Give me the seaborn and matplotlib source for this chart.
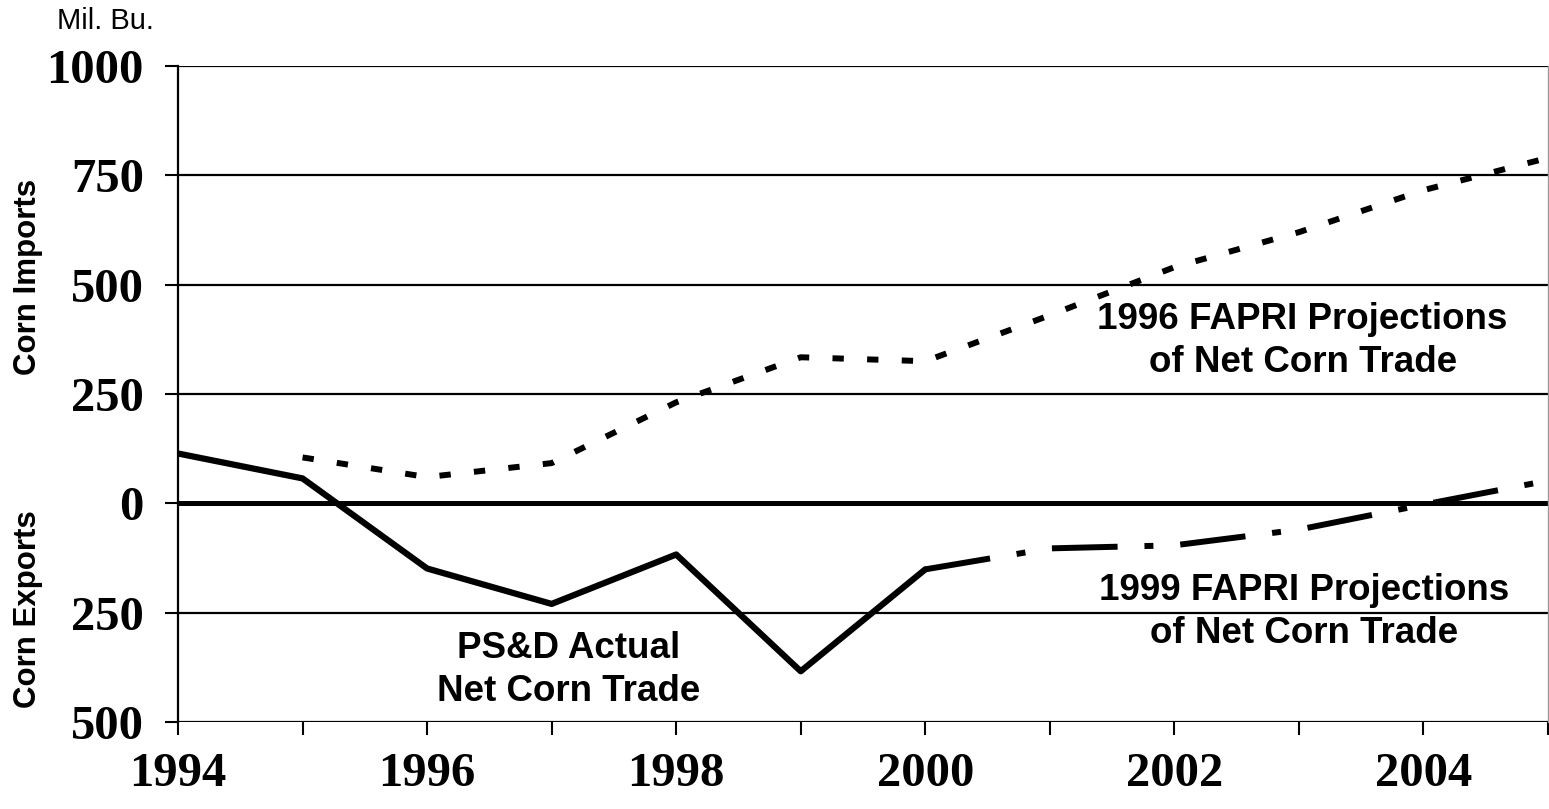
import matplotlib
matplotlib.use("Agg")
import matplotlib.pyplot as plt
import seaborn as sns
import pandas as pd

# Net corn trade, million bushels (positive = imports, negative = exports)
years_actual = [1994, 1995, 1996, 1997, 1998, 1999, 2000]
actual_trade = [114, 57, -149, -230, -117, -384, -151]

years_proj_1996 = [1995, 1996, 1997, 1998, 1999, 2000, 2001, 2002, 2003, 2004, 2005]
proj_1996 = [105, 60, 92, 231, 334, 325, 430, 540, 620, 716, 790]

years_proj_1999 = [2000, 2001, 2002, 2003, 2004, 2005]
proj_1999 = [-151, -103, -96, -60, -3, 52]

y_ticks = [-500, -250, 0, 250, 500, 750, 1000]
y_tick_labels = ["500", "250", "0", "250", "500", "750", "1000"]
x_ticks = list(range(1994, 2006))
x_tick_labels = [str(y) if y % 2 == 0 else "" for y in x_ticks]

df_actual = pd.DataFrame({"year": years_actual, "trade": actual_trade})
df_1996 = pd.DataFrame({"year": years_proj_1996, "trade": proj_1996})
df_1999 = pd.DataFrame({"year": years_proj_1999, "trade": proj_1999})

sns.set_style("white")
plt.rcParams["font.family"] = ["Liberation Sans", "DejaVu Sans"]
plt.rcParams["text.color"] = "black"
plt.rcParams["xtick.color"] = "black"
plt.rcParams["ytick.color"] = "black"

fig = plt.figure(figsize=(15.49, 8.09), dpi=100)
ax = fig.add_axes([178 / 1549, 1 - 722 / 809, 1370 / 1549, (722 - 66) / 809])

# grid lines
for v in y_ticks:
    ax.axhline(v, color="black", lw=3.6 if v == 0 else 1.6, zorder=1)

sns.lineplot(data=df_1996, x="year", y="trade", ax=ax, color="black", lw=4.3,
             linestyle=(0, (1.9, 3.9)), zorder=3)
sns.lineplot(data=df_1999, x="year", y="trade", ax=ax, color="black", lw=4.3,
             linestyle=(0, (11, 4.5, 1.5, 4.5)), zorder=3)
sns.lineplot(data=df_actual, x="year", y="trade", ax=ax, color="black", lw=4.5,
             zorder=4)

ax.set_xlim(1994, 2005)
ax.set_ylim(-500, 1000)
ax.set_xticks(x_ticks)
ax.set_xticklabels(x_tick_labels)
ax.set_yticks(y_ticks)
ax.set_yticklabels(y_tick_labels)
ax.set_xlabel("")
ax.set_ylabel("")

for lab in ax.get_xticklabels() + ax.get_yticklabels():
    lab.set_fontfamily("Liberation Serif")
    lab.set_fontweight("bold")
    lab.set_fontsize(35)
    lab.set_color("black")

ax.tick_params(axis="x", direction="out", length=9.5, width=1.5, pad=12, bottom=True)
ax.tick_params(axis="y", direction="out", length=9.5, width=1.5, pad=15, left=True)

for side in ["top", "bottom"]:
    ax.spines[side].set_visible(False)
ax.spines["left"].set_color("black")
ax.spines["left"].set_linewidth(1.6)
ax.spines["right"].set_color("#9a9a9a")
ax.spines["right"].set_linewidth(1.0)

label_font = dict(fontsize=26.5, fontweight="bold", ha="center", va="center",
                  multialignment="center", linespacing=1.3, color="black")
ax.text(2003.03, 372, "1996 FAPRI Projections\nof Net Corn Trade", **label_font)
ax.text(2003.04, -249, "1999 FAPRI Projections\nof Net Corn Trade", **label_font)
ax.text(1997.14, -382, "PS&D Actual\nNet Corn Trade", **label_font)

fig.text(57 / 1549, 1 - 21 / 809, "Mil. Bu.", fontsize=21, ha="left", va="center")
fig.text(28 / 1549, 1 - 277 / 809, "Corn Imports", fontsize=22.5, fontweight="bold",
         rotation=90, ha="center", va="center")
fig.text(28 / 1549, 1 - 609 / 809, "Corn Exports", fontsize=22.5, fontweight="bold",
         rotation=90, ha="center", va="center")

fig.savefig("out.png", dpi=100)
